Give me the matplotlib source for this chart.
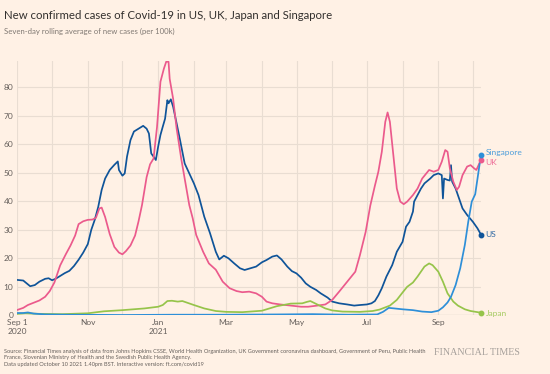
import pandas as pd
import matplotlib
matplotlib.use('Agg')
import matplotlib.pyplot as plt
import matplotlib.dates as mdates

# values (cases per 100k, 7-day avg)
us_dates = ['2020-09-01', '2020-09-06', '2020-09-12', '2020-09-16', '2020-09-20', '2020-09-25', '2020-09-28',
            '2020-10-01', '2020-10-04', '2020-10-08', '2020-10-12', '2020-10-16', '2020-10-20', '2020-10-24',
            '2020-10-28', '2020-11-01', '2020-11-04', '2020-11-07', '2020-11-10', '2020-11-13', '2020-11-16',
            '2020-11-20', '2020-11-24', '2020-11-27', '2020-11-28', '2020-12-01', '2020-12-03', '2020-12-05',
            '2020-12-08', '2020-12-11', '2020-12-15', '2020-12-19', '2020-12-22', '2020-12-24', '2020-12-26',
            '2020-12-28', '2020-12-30', '2021-01-01', '2021-01-03', '2021-01-05', '2021-01-07', '2021-01-09',
            '2021-01-10', '2021-01-12', '2021-01-14', '2021-01-17', '2021-01-20', '2021-01-24', '2021-01-28',
            '2021-02-01', '2021-02-05', '2021-02-10', '2021-02-15', '2021-02-20', '2021-02-23', '2021-02-27',
            '2021-03-03', '2021-03-08', '2021-03-13', '2021-03-17', '2021-03-22', '2021-03-27', '2021-04-01',
            '2021-04-05', '2021-04-10', '2021-04-14', '2021-04-18', '2021-04-23', '2021-04-27', '2021-05-01',
            '2021-05-05', '2021-05-09', '2021-05-13', '2021-05-18', '2021-05-22', '2021-05-28', '2021-06-01',
            '2021-06-07', '2021-06-14', '2021-06-20', '2021-06-25', '2021-07-01', '2021-07-05', '2021-07-08',
            '2021-07-11', '2021-07-14', '2021-07-18', '2021-07-23', '2021-07-27', '2021-08-01', '2021-08-04',
            '2021-08-07', '2021-08-10', '2021-08-11', '2021-08-14', '2021-08-17', '2021-08-20', '2021-08-25',
            '2021-08-28', '2021-09-01', '2021-09-04', '2021-09-05', '2021-09-06', '2021-09-09', '2021-09-11',
            '2021-09-12', '2021-09-13', '2021-09-16', '2021-09-19', '2021-09-22', '2021-09-26', '2021-10-01',
            '2021-10-05', '2021-10-08']
us_values = [12.4, 12.2, 10.2, 10.6, 11.8, 12.8, 13.0,
             12.3, 12.8, 13.8, 14.8, 15.6, 17.3, 19.5,
             22.0, 25.0, 30.0, 33.5, 38.0, 44.0, 48.0,
             51.0, 52.8, 54.0, 51.0, 49.0, 49.8, 55.7,
             61.5, 64.5, 65.5, 66.5, 65.5, 63.8, 56.8,
             55.7, 54.5, 59.2, 63.3, 66.2, 69.0, 75.5,
             74.4, 75.8, 73.2, 67.4, 61.5, 53.3, 49.8,
             46.3, 42.2, 34.6, 28.8, 22.3, 19.6, 20.9,
             20.0, 18.2, 16.5, 15.9, 16.5, 17.1, 18.6,
             19.4, 20.6, 21.0, 19.6, 17.1, 15.5, 14.7,
             13.2, 11.2, 10.0, 8.9, 7.7, 6.2, 4.8,
             4.2, 3.8, 3.4, 3.6, 3.8, 4.2, 5.0,
             7.0, 9.5, 13.6, 17.6, 22.3, 25.8, 31.1,
             32.8, 36.4, 39.9, 42.2, 44.5, 46.3, 48.0,
             49.2, 49.8, 49.2, 41.0, 48.0, 47.5, 47.3,
             52.7, 46.9, 44.5, 41.0, 37.5, 35.2, 32.8,
             30.5, 28.3]

uk_dates = ['2020-09-01', '2020-09-06', '2020-09-10', '2020-09-15', '2020-09-20', '2020-09-25', '2020-09-29',
            '2020-10-03', '2020-10-08', '2020-10-13', '2020-10-17', '2020-10-21', '2020-10-24', '2020-10-28',
            '2020-11-01', '2020-11-05', '2020-11-08', '2020-11-11', '2020-11-13', '2020-11-16', '2020-11-20',
            '2020-11-24', '2020-11-28', '2020-12-01', '2020-12-04', '2020-12-08', '2020-12-12', '2020-12-15',
            '2020-12-18', '2020-12-22', '2020-12-25', '2020-12-28', '2020-12-31', '2021-01-03', '2021-01-06',
            '2021-01-08', '2021-01-10', '2021-01-11', '2021-01-14', '2021-01-17', '2021-01-21', '2021-01-24',
            '2021-01-28', '2021-01-31', '2021-02-03', '2021-02-09', '2021-02-14', '2021-02-20', '2021-02-26',
            '2021-03-04', '2021-03-10', '2021-03-15', '2021-03-21', '2021-03-27', '2021-04-01', '2021-04-05',
            '2021-04-10', '2021-04-17', '2021-04-26', '2021-05-05', '2021-05-11', '2021-05-19', '2021-05-26',
            '2021-06-01', '2021-06-07', '2021-06-14', '2021-06-21', '2021-06-25', '2021-06-30', '2021-07-04',
            '2021-07-08', '2021-07-11', '2021-07-14', '2021-07-17', '2021-07-19', '2021-07-21', '2021-07-24',
            '2021-07-27', '2021-07-30', '2021-08-02', '2021-08-05', '2021-08-10', '2021-08-14', '2021-08-18',
            '2021-08-24', '2021-08-28', '2021-09-01', '2021-09-04', '2021-09-07', '2021-09-09', '2021-09-11',
            '2021-09-14', '2021-09-17', '2021-09-19', '2021-09-22', '2021-09-26', '2021-09-29', '2021-10-02',
            '2021-10-04', '2021-10-08']
uk_values = [1.9, 2.6, 3.6, 4.4, 5.2, 6.5, 8.5,
             11.5, 17.5, 21.5, 24.5, 28.0, 32.0, 33.0,
             33.5, 33.6, 34.2, 37.5, 37.8, 34.5, 28.5,
             24.0, 22.0, 21.4, 22.5, 24.5, 28.0, 33.0,
             38.7, 48.5, 53.0, 55.0, 66.0, 82.0, 86.6,
             89.0, 89.0, 83.0, 76.0, 65.6, 55.0, 48.0,
             38.7, 34.0, 28.2, 22.3, 18.2, 16.0, 11.8,
             9.5, 8.5, 8.1, 8.3, 7.7, 6.5, 4.8,
             4.2, 3.8, 3.4, 3.0, 3.0, 3.4, 3.8,
             5.4, 8.3, 11.8, 15.3, 21.1, 29.3, 38.5,
             45.5, 50.4, 57.4, 67.9, 71.2, 67.9, 56.2,
             44.5, 39.9, 39.0, 39.9, 42.2, 44.5, 48.0,
             51.0, 50.4, 51.0, 53.9, 58.0, 57.4, 51.6,
             46.9, 44.0, 45.1, 49.2, 52.2, 52.7, 51.6,
             51.0, 54.6]

sg_dates = ['2020-09-01', '2020-09-06', '2020-09-10', '2020-09-15', '2020-09-25', '2020-10-15', '2020-12-01',
            '2021-01-15', '2021-03-01', '2021-04-15', '2021-05-15', '2021-06-15', '2021-07-10', '2021-07-15',
            '2021-07-20', '2021-07-25', '2021-08-01', '2021-08-10', '2021-08-18', '2021-08-26', '2021-09-01',
            '2021-09-05', '2021-09-09', '2021-09-12', '2021-09-16', '2021-09-20', '2021-09-24', '2021-09-27',
            '2021-09-30', '2021-10-03', '2021-10-05', '2021-10-08']
sg_values = [0.8, 0.8, 1.0, 0.6, 0.3, 0.2, 0.1,
             0.2, 0.2, 0.3, 0.4, 0.2, 0.3, 1.2,
             2.6, 2.4, 2.1, 1.8, 1.3, 1.1, 1.6,
             2.8, 4.5, 6.5, 10.6, 16.5, 24.7, 32.9,
             39.9, 42.5, 48.0, 56.3]

jp_dates = ['2020-09-01', '2020-09-08', '2020-09-20', '2020-10-10', '2020-11-01', '2020-11-15', '2020-12-01',
            '2020-12-20', '2021-01-01', '2021-01-05', '2021-01-09', '2021-01-13', '2021-01-18', '2021-01-22',
            '2021-02-01', '2021-02-10', '2021-02-20', '2021-03-01', '2021-03-15', '2021-04-01', '2021-04-14',
            '2021-04-26', '2021-05-06', '2021-05-10', '2021-05-13', '2021-05-19', '2021-05-26', '2021-06-01',
            '2021-06-10', '2021-06-25', '2021-07-06', '2021-07-12', '2021-07-21', '2021-07-27', '2021-08-01',
            '2021-08-05', '2021-08-10', '2021-08-14', '2021-08-20', '2021-08-24', '2021-08-27', '2021-09-01',
            '2021-09-05', '2021-09-09', '2021-09-14', '2021-09-18', '2021-09-24', '2021-09-29', '2021-10-08']
jp_values = [0.5, 0.7, 0.5, 0.4, 0.7, 1.4, 1.8,
             2.4, 3.0, 3.6, 5.0, 5.1, 4.8, 5.0,
             3.6, 2.4, 1.5, 1.2, 1.1, 1.6, 3.2,
             4.1, 4.2, 4.7, 5.0, 3.8, 2.4, 1.7,
             1.3, 1.2, 1.5, 2.0, 3.4, 5.4, 8.0,
             10.0, 11.5, 13.6, 17.1, 18.2, 17.6, 15.3,
             11.8, 7.7, 4.8, 3.4, 2.1, 1.5, 0.9]

tick_dates = ['2020-09-01', '2020-11-01', '2021-01-01', '2021-03-01', '2021-05-01', '2021-07-01', '2021-09-01']
tick_labels = ['Sep 1\n2020', 'Nov', 'Jan\n2021', 'Mar', 'May', 'Jul', 'Sep']

BG = '#FFF1E5'
GRID = '#E9DDD2'
TXT = '#66605C'
series = [
    ('US', us_dates, us_values, '#0F5499'),
    ('UK', uk_dates, uk_values, '#EB5A8C'),
    ('Japan', jp_dates, jp_values, '#96C44A'),
    ('Singapore', sg_dates, sg_values, '#2E8FD8'),
]
label_y = {'Singapore': 57.0, 'UK': 53.8, 'US': 28.3, 'Japan': 0.8}

plt.rcParams['font.family'] = ['Lato', 'DejaVu Sans']

fig = plt.figure(figsize=(5.5, 3.74), dpi=100, facecolor=BG)
ax = fig.add_axes([0.0318, 0.157, 0.8427, 0.681], facecolor=BG)

start = pd.Timestamp('2020-09-01')
end = pd.Timestamp('2021-10-08')

# monthly vertical grid, horizontal every 10
for m in pd.date_range(start, end, freq='MS'):
    ax.axvline(m, color=GRID, lw=0.8, zorder=0)
for v in range(10, 90, 10):
    ax.axhline(v, color=GRID, lw=0.8, zorder=0)
ax.axhline(0, color='#8C847E', lw=0.8, zorder=1)

for name, d, v, c in series:
    x = pd.to_datetime(d)
    ax.plot(x, v, color=c, lw=1.25, zorder=3)
    ax.plot(x[-1], v[-1], 'o', color=c, ms=3.2, clip_on=False, zorder=4)
    ax.text(x[-1] + pd.Timedelta(days=4), label_y[name], name, color=c, fontsize=6,
            va='center', ha='left', alpha=0.85)

ax.set_xlim(start, end)
ax.set_ylim(0, 89.4)
ax.set_yticks(range(0, 90, 10))
ax.set_yticklabels([str(v) for v in range(0, 90, 10)])
ax.set_xticks(pd.to_datetime(tick_dates))
ax.set_xticklabels(tick_labels, linespacing=1.3)
ax.tick_params(length=0, colors=TXT, labelsize=6)
ax.tick_params(axis='y', pad=3)
ax.tick_params(axis='x', pad=3)
for s in ax.spines.values():
    s.set_visible(False)

fig.text(0.007, 0.958, 'New confirmed cases of Covid-19 in US, UK, Japan and Singapore',
         fontsize=8.2, color='#33302E', va='center', ha='left')
fig.text(0.007, 0.917, 'Seven-day rolling average of new cases (per 100k)',
         fontsize=5.6, color='#807973', va='center', ha='left')
fig.text(0.007, 0.043,
         'Source: Financial Times analysis of data from Johns Hopkins CSSE, World Health Organization, '
         'UK Government coronavirus dashboard, Government of Peru, Public Health\n'
         'France, Slovenian Ministry of Health and the Swedish Public Health Agency.\n'
         'Data updated October 10 2021 1.40pm BST. Interactive version: ft.com/covid19',
         fontsize=4.1, color='#66605C', va='center', ha='left', linespacing=1.3)
fig.text(0.945, 0.058, 'FINANCIAL TIMES', fontsize=7.2, color='#A6A09B', va='center', ha='right',
         family='Liberation Serif')

fig.savefig('out.png', dpi=100, facecolor=BG)
